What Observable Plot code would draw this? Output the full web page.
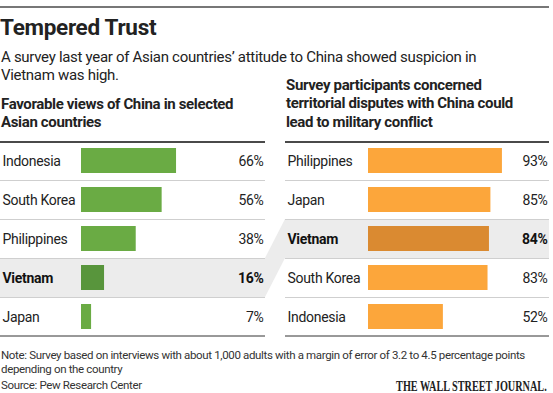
<!DOCTYPE html>
<html>
<head>
<meta charset="utf-8">
<script src="https://cdn.jsdelivr.net/npm/d3@7"></script>
<script src="https://cdn.jsdelivr.net/npm/@observablehq/plot@0.6"></script>
<style>
  html, body { margin: 0; padding: 0; background: #fff; }
  #c { position: relative; width: 553px; height: 393px; overflow: hidden; background: #fff; color: #222;
       font-family: "Roboto", "Liberation Sans", sans-serif; }
  #c > * { position: absolute; margin: 0; white-space: nowrap; }
  .title { left: 0; top: 16px; font-size: 22.5px; line-height: 22px; font-weight: bold; letter-spacing: -0.3px; }
  .sub { left: 1px; font-size: 15px; line-height: 18.3px; letter-spacing: -0.3px; }
  .head { font-size: 15px; line-height: 18.4px; font-weight: bold; letter-spacing: -0.35px; }
  .note { left: 1px; font-size: 11.5px; line-height: 14px; color: #333; letter-spacing: -0.35px; }
</style>
</head>
<body>
<div id="c">
  <div style="left:0;top:5.5px;width:549px;height:2px;background:#777"></div>
  <div class="title">Tempered Trust</div>
  <div class="sub" style="top:47.8px">A survey last year of Asian countries’ attitude to China showed suspicion in</div>
  <div class="sub" style="top:66.1px">Vietnam was high.</div>
  <div class="head" style="left:1px;top:95px">Favorable views of China in selected<br>Asian countries</div>
  <div class="head" style="left:286px;top:75.7px">Survey participants concerned<br>territorial disputes with China could<br>lead to military conflict</div>
  <svg style="left:0;top:0" width="553" height="393"><polygon points="265,258 285,219 285,258 265,297" fill="#ececec"/></svg>
  <div id="left" style="left:0;top:140px"></div>
  <div id="right" style="left:285px;top:140px"></div>
  <div class="note" style="top:348.4px">Note: Survey based on interviews with about 1,000 adults with a margin of error of 3.2 to 4.5 percentage points</div>
  <div class="note" style="top:362.4px">depending on the country</div>
  <div class="note" style="top:378.4px">Source: Pew Research Center</div>
  <svg style="left:300px;top:373px" width="253" height="20"><g transform="translate(246.7,18) scale(0.73,1)"><text text-anchor="end" font-family="Liberation Serif, serif" font-weight="bold" font-size="14" fill="#222">THE WALL STREET JOURNAL.</text></g></svg>
</div>
<script>
// Left panel: favorable views of China
const favCountries = ["Indonesia", "South Korea", "Philippines", "Vietnam", "Japan"];
const favValues = [66, 56, 38, 16, 7];
// Right panel: concerned territorial disputes could lead to military conflict
const conCountries = ["Philippines", "Japan", "Vietnam", "South Korea", "Indonesia"];
const conValues = [93, 85, 84, 83, 52];
const highlight = "Vietnam";

function panel(countries, values, base, dark, width, xRange) {
  const rows = countries.map((c, i) => ({country: c, value: values[i]}));
  const band = 195 / countries.length;
  const font = '"Roboto", "Liberation Sans", sans-serif';
  const norm = rows.filter(d => d.country !== highlight);
  const hi = rows.filter(d => d.country === highlight);
  const common = {y: "country", fontSize: 14, dy: 0.5};
  return Plot.plot({
    width, height: 197,
    marginTop: 1, marginBottom: 1, marginLeft: 0, marginRight: 0,
    style: {fontFamily: font, background: "transparent", color: "#222", letterSpacing: "-0.3px"},
    x: {domain: [0, 100], range: xRange, axis: null},
    y: {domain: countries, axis: null, padding: 0},
    color: {type: "identity"},
    marks: [
      Plot.cell(hi, {y: "country", fill: "#ececec"}),
      Plot.ruleY(rows.slice(0, -1), {y: "country", dy: band / 2, stroke: "#cfcfcf", strokeWidth: 1}),
      Plot.ruleY(rows.slice(0, 1), {y: "country", dy: -band / 2 + 0.5, stroke: "#4a4a4a", strokeWidth: 1.8}),
      Plot.ruleY(rows.slice(-1), {y: "country", dy: band / 2 - 0.5, stroke: "#333", strokeWidth: 1}),
      Plot.barX(rows, {x: "value", y: "country", fill: d => d.country === highlight ? dark : base, insetTop: 7, insetBottom: 7}),
      Plot.text(norm, {...common, text: "country", frameAnchor: "left", textAnchor: "start", dx: 2, fill: "#222"}),
      Plot.text(hi, {...common, text: "country", frameAnchor: "left", textAnchor: "start", dx: 2, fontWeight: "bold", fill: "#111"}),
      Plot.text(norm, {...common, text: d => d.value + "%", frameAnchor: "right", textAnchor: "end", dx: -2, fill: "#222"}),
      Plot.text(hi, {...common, text: d => d.value + "%", frameAnchor: "right", textAnchor: "end", dx: -2, fontWeight: "bold", fill: "#111"})
    ]
  });
}

document.getElementById("left").append(panel(favCountries, favValues, "#6aab44", "#58953c", 265, [81, 225]));
document.getElementById("right").append(panel(conCountries, conValues, "#fca63b", "#da8a31", 264, [83, 227]));
</script>
</body>
</html>
